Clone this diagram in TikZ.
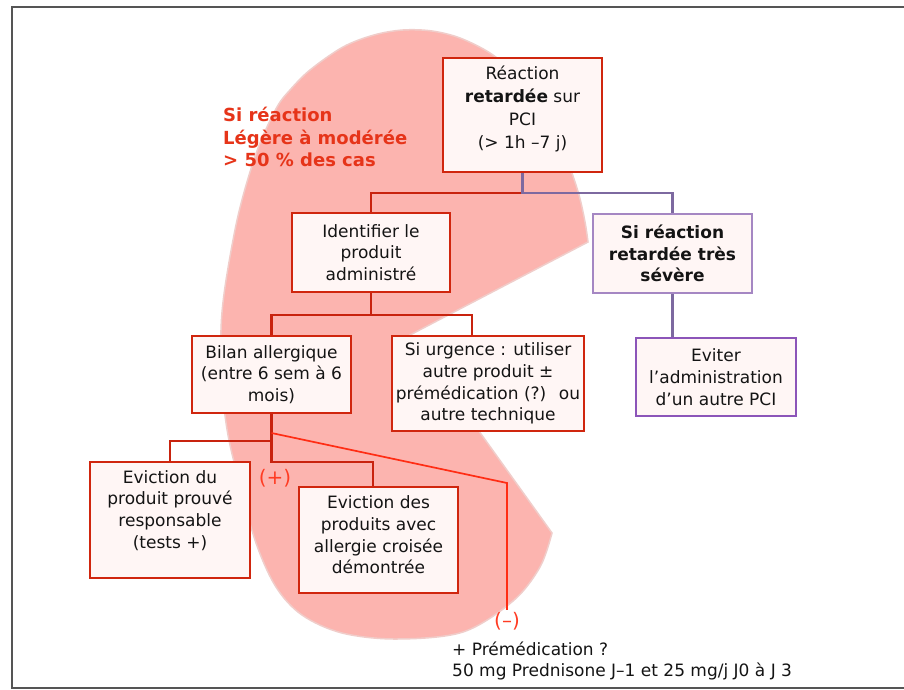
\documentclass[tikz,border=0pt]{standalone}
\usepackage{fontspec}
\setmainfont{DejaVu Sans}
\definecolor{blobfill}{RGB}{252,180,175}
\definecolor{blobedge}{RGB}{240,205,202}
\definecolor{boxred}{RGB}{208,38,14}
\definecolor{boxfill}{RGB}{255,246,245}
\definecolor{purpA}{RGB}{165,135,195}
\definecolor{purpB}{RGB}{140,85,185}
\definecolor{purpline}{RGB}{125,105,160}
\definecolor{linered}{RGB}{200,35,14}
\definecolor{thinred}{RGB}{255,45,20}
\definecolor{signred}{RGB}{255,60,35}
\definecolor{titlered}{RGB}{230,52,25}
\definecolor{framegray}{RGB}{85,85,85}
\definecolor{txtcol}{RGB}{20,20,20}
\newcommand\bodyfont{\fontsize{17}{21.7}\selectfont}
\begin{document}
\begin{tikzpicture}[x=1pt,y=-1pt,
  boxshape/.style={draw=boxred, fill=boxfill, line width=2.8pt, inner sep=0pt},
  boxtext/.style={inner sep=0pt, align=center, font=\bodyfont, text=txtcol},
  redbox/.style={boxshape, boxtext},
  redconn/.style={draw=linered, line width=2.8pt},
  purpconn/.style={draw=purpline, line width=2.8pt},
  thinconn/.style={draw=thinred, line width=1.7pt},
  signlbl/.style={font=\fontsize{20}{24}\selectfont, text=signred, inner sep=2pt}
]
\useasboundingbox (0,0) rectangle (904,690);
\fill[white] (0,0) rectangle (904,690);
% frame
\draw[framegray, line width=2pt] (904,7) -- (12,7) -- (12,688) -- (904,688);
% pink blob
\filldraw[fill=blobfill, draw=blobedge, line width=1.5pt]
  plot[smooth, tension=0.55] coordinates {(588,242) (585,222) (579,195) (569,165) (555,132) (536,100) (514,73) (490,53) (460,38) (432,31) (403,30) (374,35) (343,47) (310,70) (290,90) (277,107) (260,143) (247,182) (236,225) (225,287) (221,330) (222,385) (228,435) (240,485) (256,543) (276,587) (302,615) (342,633) (397,639) (463,632) (513,601) (540,567) (552,533)}
  -- (410,335) -- cycle;
% title
\node[anchor=west, align=left, inner sep=0pt, font=\bfseries\fontsize{18}{22.3}\selectfont, text=titlered] (title) at (223,137) {Si réaction\\Légère à modérée\\> 50 \% des cas};
% boxes
\node[boxshape, minimum width=159, minimum height=114] (b1) at (522.5,115) {};
\node[boxtext, font=\fontsize{17}{22.7}\selectfont] (b1t) at (522.5,109) {Réaction\\\textbf{retardée} sur\\PCI\\(> 1h –7 j)};
\node[redbox, minimum width=158, minimum height=79] (b2) at (371,252.5) {Identifier le\\produit\\administré};
\node[redbox, draw=purpA, minimum width=159, minimum height=79, font=\bodyfont\bfseries] (b3) at (672.5,253.5) {Si réaction\\retardée très\\sévère};
\node[redbox, draw=purpB, minimum width=160, minimum height=78] (b4) at (716,377) {Eviter\\l’administration\\d’un autre PCI};
\node[redbox, minimum width=159, minimum height=77] (b5) at (271.5,374.5) {Bilan allergique\\(entre 6 sem à 6\\mois)};
\node[redbox, minimum width=192, minimum height=95] (b6) at (488,383.5) {Si urgence : utiliser\\autre produit ±\\prémédication (?)~ ou\\autre technique};
\node[boxshape, minimum width=160, minimum height=116] (b7) at (170,520) {};
\node[boxtext] (b7t) at (170,510.5) {Eviction du\\produit prouvé\\responsable\\(tests +)};
\node[boxshape, minimum width=159, minimum height=106] (b8) at (378.5,540) {};
\node[boxtext] (b8t) at (378.5,535) {Eviction des\\produits avec\\allergie croisée\\démontrée};
% labels
\node[signlbl] (plus) at (275,478) {(+)};
\node[signlbl] (minus) at (507,621) {(–)};
\node[anchor=west, align=left, inner sep=0pt, font=\bodyfont, text=txtcol] (note) at (452,661) {+ Prémédication ?\\50 mg Prednisone J–1 et 25 mg/j J0 à J 3};
% connectors
\coordinate (j1) at (522.5,193);
\coordinate (j2) at (371,315);
\coordinate (j3) at (271.5,441);
\coordinate (j4) at (271.5,462);
\coordinate (d0) at (271.5,433);
\coordinate (d1) at (507,483);
\draw[redconn] (j1) -| (b2.north);
\draw[purpconn] (b1.south) -- (j1) -| (b3.north);
\draw[purpconn] (b3.south) -- (b3.south |- b4.north);
\draw[redconn] (b2.south) -- (j2);
\draw[redconn] (b5.north) |- (j2);
\draw[redconn] (j2) -| ([xshift=-16]b6.north);
\draw[redconn] (b5.south) -- (j3) -| (b7.north);
\draw[redconn] (j3) -- (j4) -| ([xshift=-5.5]b8.north);
\draw[thinconn] (d0) -- (d1) -- (minus.north);
\end{tikzpicture}
\end{document}
